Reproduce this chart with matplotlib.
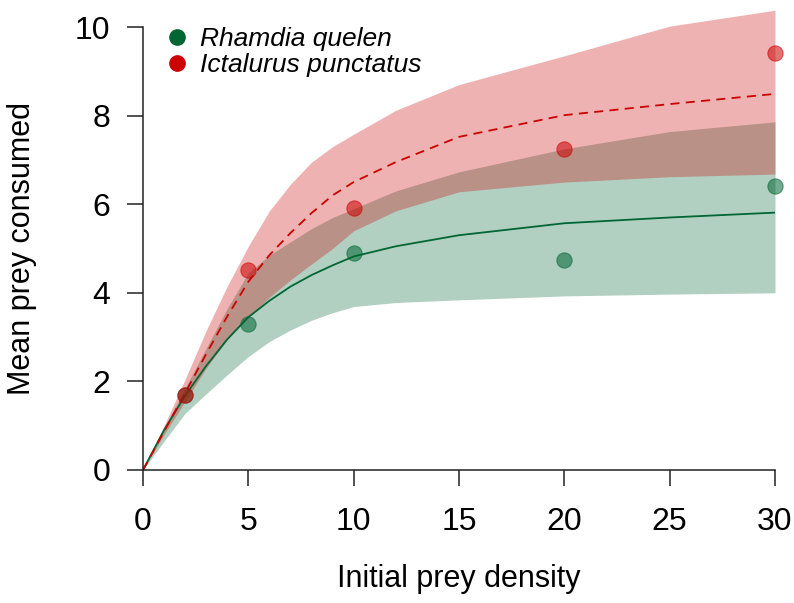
import matplotlib.pyplot as plt
from matplotlib.lines import Line2D

plt.rcParams['font.family'] = ['Liberation Sans', 'DejaVu Sans']

# observed means
densidade = [2, 5, 10, 20, 30]
rhamdia_obs = [1.70, 3.30, 4.90, 4.73, 6.41]
ictalurus_obs = [1.70, 4.51, 5.91, 7.25, 9.41]

# fitted curves and confidence bands
x_curva = [0, 1, 2, 3, 4, 5, 6, 7, 8, 9, 10, 12, 15, 20, 25, 30]
rhamdia_fit = [0, 0.90, 1.68, 2.35, 2.95, 3.45, 3.82, 4.14, 4.40, 4.62, 4.82, 5.05, 5.30, 5.57, 5.70, 5.81]
rhamdia_inf = [0, 0.65, 1.28, 1.72, 2.15, 2.56, 2.90, 3.16, 3.38, 3.55, 3.69, 3.78, 3.84, 3.93, 3.97, 4.00]
rhamdia_sup = [0, 0.95, 1.85, 2.75, 3.65, 4.45, 4.85, 5.15, 5.45, 5.70, 5.90, 6.30, 6.73, 7.25, 7.64, 7.86]

ictalurus_fit = [0, 0.87, 1.74, 2.62, 3.47, 4.25, 4.85, 5.35, 5.80, 6.20, 6.50, 6.95, 7.52, 8.01, 8.26, 8.49]
ictalurus_inf = [0, 0.80, 1.55, 2.30, 2.95, 3.45, 3.90, 4.29, 4.65, 5.00, 5.40, 5.85, 6.28, 6.50, 6.62, 6.68]
ictalurus_sup = [0, 1.00, 2.05, 3.15, 4.15, 5.05, 5.85, 6.45, 6.95, 7.30, 7.58, 8.12, 8.70, 9.35, 10.02, 10.38]

verde = '#006633'
vermelho = '#CC0000'

fig = plt.figure(figsize=(7.94, 6.03), dpi=100)
ax = fig.add_axes([0.1801, 0.2206, 0.796, 0.7346])

ax.fill_between(x_curva, rhamdia_inf, rhamdia_sup, color=verde, alpha=0.3, lw=0)
ax.fill_between(x_curva, ictalurus_inf, ictalurus_sup, color=vermelho, alpha=0.3, lw=0, clip_on=False)

ax.plot(x_curva, rhamdia_fit, color=verde, lw=1.3)
ax.plot(x_curva, ictalurus_fit, color=vermelho, lw=1.3, ls=(0, (5, 3.5)))

ax.plot(densidade, rhamdia_obs, 'o', color=verde, alpha=0.55, ms=11, mec=verde, mew=0.8, clip_on=False)
ax.plot(densidade, ictalurus_obs, 'o', color=vermelho, alpha=0.55, ms=11, mec=vermelho, mew=0.8, clip_on=False)

ax.set_xlim(0, 30)
ax.set_ylim(0, 10)
ax.set_xticks([0, 5, 10, 15, 20, 25, 30])
ax.set_yticks([0, 2, 4, 6, 8, 10])

for lado in ['top', 'right']:
    ax.spines[lado].set_visible(False)
for lado in ['left', 'bottom']:
    ax.spines[lado].set_linewidth(1.1)
    ax.spines[lado].set_color('#222222')

ax.tick_params(axis='both', direction='out', length=11.5, width=1.1, color='#222222', labelsize=23)
ax.tick_params(axis='x', pad=15)
ax.tick_params(axis='y', pad=12)

ax.set_xlabel('Initial prey density', fontsize=22)
ax.set_ylabel('Mean prey consumed', fontsize=22)
ax.xaxis.set_label_coords(0.5, -0.212)
ax.yaxis.set_label_coords(-0.168, 0.5)

legenda = [
    Line2D([], [], marker='o', ls='', color=verde, ms=11),
    Line2D([], [], marker='o', ls='', color=vermelho, ms=11),
]
ax.legend(legenda, ['Rhamdia quelen', 'Ictalurus punctatus'], loc='upper left',
          bbox_to_anchor=(0.0, 1.054), frameon=False, handlelength=0.8, handletextpad=0.45,
          labelspacing=0.1, prop={'style': 'italic', 'size': 19})

plt.savefig('out.png', dpi=100)
